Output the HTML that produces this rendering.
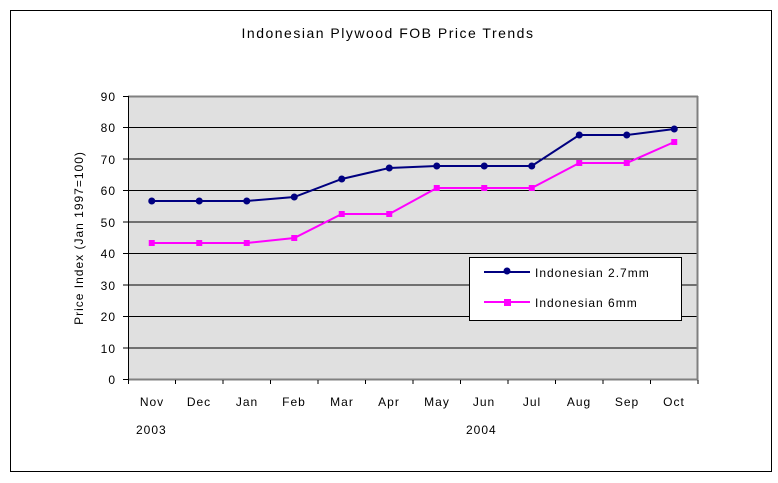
<!DOCTYPE html>
<html><head><meta charset="utf-8"><style>body{margin:0;background:#fff}svg{display:block}text{font-family:"Liberation Sans",sans-serif;font-size:12px;fill:#000;letter-spacing:1px}</style></head>
<body>
<svg width="778" height="483" viewBox="0 0 778 483">
<rect x="10.5" y="10.5" width="761" height="461" fill="#fff" stroke="#000"/>
<text x="388" y="38" text-anchor="middle" style="font-size:14px;letter-spacing:1.5px">Indonesian Plywood FOB Price Trends</text>
<rect x="128" y="96" width="570" height="283.5" fill="#e0e0e0"/>
<g stroke="#000" stroke-width="1">
<line x1="128" y1="127.5" x2="698" y2="127.5"/><line x1="128" y1="159" x2="698" y2="159"/>
<line x1="128" y1="190.5" x2="698" y2="190.5"/><line x1="128" y1="222" x2="698" y2="222"/>
<line x1="128" y1="253.5" x2="698" y2="253.5"/><line x1="128" y1="285" x2="698" y2="285"/>
<line x1="128" y1="316.5" x2="698" y2="316.5"/><line x1="128" y1="348" x2="698" y2="348"/>
</g>
<line x1="128" y1="96.5" x2="698" y2="96.5" stroke="#808080" stroke-width="2"/>
<line x1="697.5" y1="96" x2="697.5" y2="380" stroke="#808080" stroke-width="2"/>
<line x1="128" y1="379.5" x2="698" y2="379.5" stroke="#808080" stroke-width="2"/>
<line x1="128.5" y1="96" x2="128.5" y2="384" stroke="#000"/>
<g stroke="#000">
<line x1="123" y1="96.5" x2="128" y2="96.5"/><line x1="123" y1="127.5" x2="128" y2="127.5"/><line x1="123" y1="159" x2="128" y2="159"/><line x1="123" y1="190.5" x2="128" y2="190.5"/><line x1="123" y1="222" x2="128" y2="222"/><line x1="123" y1="253.5" x2="128" y2="253.5"/><line x1="123" y1="285" x2="128" y2="285"/><line x1="123" y1="316.5" x2="128" y2="316.5"/><line x1="123" y1="348" x2="128" y2="348"/><line x1="123" y1="379.5" x2="128" y2="379.5"/>
<line x1="175.5" y1="380" x2="175.5" y2="384"/><line x1="223" y1="380" x2="223" y2="384"/><line x1="270.5" y1="380" x2="270.5" y2="384"/><line x1="318" y1="380" x2="318" y2="384"/><line x1="365.5" y1="380" x2="365.5" y2="384"/><line x1="413" y1="380" x2="413" y2="384"/><line x1="460.5" y1="380" x2="460.5" y2="384"/><line x1="508" y1="380" x2="508" y2="384"/><line x1="555.5" y1="380" x2="555.5" y2="384"/><line x1="603" y1="380" x2="603" y2="384"/><line x1="650.5" y1="380" x2="650.5" y2="384"/><line x1="698" y1="380" x2="698" y2="384"/>
</g>
<g text-anchor="end">
<text x="116" y="101">90</text><text x="116" y="132">80</text><text x="116" y="164">70</text><text x="116" y="195">60</text><text x="116" y="227">50</text><text x="116" y="258">40</text><text x="116" y="290">30</text><text x="116" y="321">20</text><text x="116" y="353">10</text><text x="116" y="384">0</text>
</g>
<text transform="translate(83,238) rotate(-90)" text-anchor="middle">Price Index (Jan 1997=100)</text>
<g text-anchor="middle">
<text x="152" y="406">Nov</text><text x="199" y="406">Dec</text><text x="247" y="406">Jan</text><text x="294" y="406">Feb</text><text x="342" y="406">Mar</text><text x="389" y="406">Apr</text><text x="437" y="406">May</text><text x="484" y="406">Jun</text><text x="532" y="406">Jul</text><text x="579" y="406">Aug</text><text x="627" y="406">Sep</text><text x="674" y="406">Oct</text>
</g>
<text x="136" y="434">2003</text><text x="466" y="434">2004</text>
<polyline fill="none" stroke="#ff00ff" stroke-width="2" points="151.75,243 199.25,243 246.75,243 294.25,238 341.75,214 389.25,214 436.75,188 484.25,188 531.75,188 579.25,163 626.75,163 674.25,142"/>
<g fill="#ff00ff">
<rect x="148.75" y="240" width="6" height="6"/><rect x="196.25" y="240" width="6" height="6"/><rect x="243.75" y="240" width="6" height="6"/><rect x="291.25" y="235" width="6" height="6"/><rect x="338.75" y="211" width="6" height="6"/><rect x="386.25" y="211" width="6" height="6"/><rect x="433.75" y="185" width="6" height="6"/><rect x="481.25" y="185" width="6" height="6"/><rect x="528.75" y="185" width="6" height="6"/><rect x="576.25" y="160" width="6" height="6"/><rect x="623.75" y="160" width="6" height="6"/><rect x="671.25" y="139" width="6" height="6"/>
</g>
<polyline fill="none" stroke="#000080" stroke-width="2" points="151.75,201 199.25,201 246.75,201 294.25,197 341.75,179 389.25,168 436.75,166 484.25,166 531.75,166 579.25,135 626.75,135 674.25,129"/>
<g fill="#000080">
<circle cx="151.75" cy="201" r="3.5"/><circle cx="199.25" cy="201" r="3.5"/><circle cx="246.75" cy="201" r="3.5"/><circle cx="294.25" cy="197" r="3.5"/><circle cx="341.75" cy="179" r="3.5"/><circle cx="389.25" cy="168" r="3.5"/><circle cx="436.75" cy="166" r="3.5"/><circle cx="484.25" cy="166" r="3.5"/><circle cx="531.75" cy="166" r="3.5"/><circle cx="579.25" cy="135" r="3.5"/><circle cx="626.75" cy="135" r="3.5"/><circle cx="674.25" cy="129" r="3.5"/>
</g>
<rect x="469.5" y="257.5" width="212" height="63" fill="#fff" stroke="#000"/>
<line x1="484" y1="272" x2="530" y2="272" stroke="#000080" stroke-width="2"/><circle cx="507" cy="271" r="3.5" fill="#000080"/>
<text x="535" y="277">Indonesian 2.7mm</text>
<line x1="484" y1="302" x2="530" y2="302" stroke="#ff00ff" stroke-width="2"/><rect x="504" y="299" width="7" height="7" fill="#ff00ff"/>
<text x="535" y="307">Indonesian 6mm</text>
</svg>
</body></html>
